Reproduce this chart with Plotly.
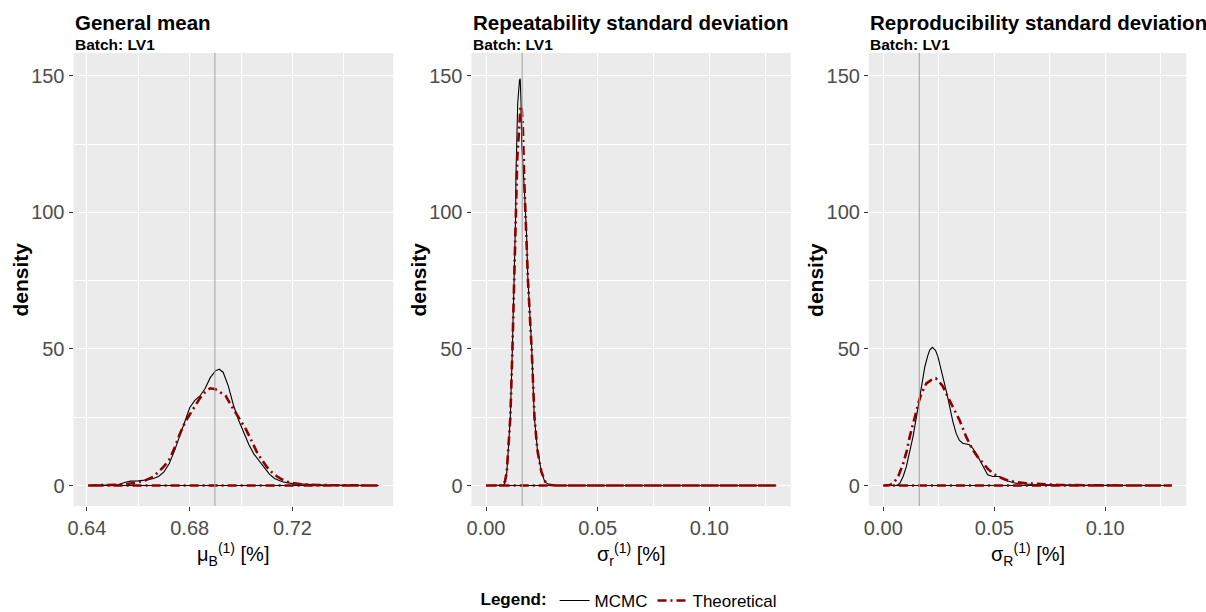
import plotly.graph_objects as go

# ---------------- data ----------------
panel_titles = ["General mean", "Repeatability standard deviation", "Reproducibility standard deviation"]
panel_subtitle = "Batch: LV1"
x_titles = ["μ<sub>B</sub><sup>(1)</sup> [%]", "σ<sub>r</sub><sup>(1)</sup> [%]", "σ<sub>R</sub><sup>(1)</sup> [%]"]
ref_values = [0.6898, 0.0162, 0.0162]

# Panel 1 : general mean
mean_mcmc_x = [0.6405, 0.648, 0.652, 0.655, 0.657, 0.660, 0.663, 0.666, 0.668, 0.670, 0.672, 0.674,
               0.676, 0.678, 0.680, 0.682, 0.684, 0.686, 0.688, 0.690, 0.6915, 0.693, 0.695, 0.697,
               0.699, 0.701, 0.703, 0.705, 0.707, 0.709, 0.711, 0.713, 0.716, 0.720, 0.725, 0.732,
               0.740, 0.7535]
mean_mcmc_y = [0, 0.1, 0.3, 1.2, 1.6, 1.7, 2.0, 2.6, 3.4, 5.0, 8.0, 12.5,
               18, 23.5, 28.5, 31.2, 32.8, 35.5, 39.5, 42.0, 42.6, 41.5, 36.5, 29.5,
               24, 19.5, 15, 11.5, 9, 6.8, 4.2, 2.6, 1.4, 0.7, 0.4, 0.2,
               0.05, 0]
mean_theo_x = [0.6405, 0.650, 0.655, 0.660, 0.663, 0.666, 0.668, 0.670, 0.672, 0.674, 0.676, 0.678,
               0.680, 0.682, 0.684, 0.686, 0.688, 0.690, 0.692, 0.694, 0.696, 0.698, 0.700, 0.702,
               0.704, 0.706, 0.708, 0.710, 0.712, 0.714, 0.716, 0.718, 0.720, 0.724, 0.730, 0.740,
               0.7535]
mean_theo_y = [0, 0.1, 0.4, 1.2, 2.0, 3.3, 5.0, 7.0, 9.4, 13.5, 18.5, 22.8,
               26.0, 29.0, 32.0, 34.2, 35.6, 35.3, 34.0, 32.8, 29.5, 26.5, 23.5, 20.4,
               16.5, 12.5, 9.5, 6.8, 4.8, 3.3, 2.2, 1.4, 0.9, 0.4, 0.15, 0.05,
               0]

# Panel 2 : repeatability standard deviation
rep_mcmc_x = [0.0, 0.006, 0.0078, 0.0082, 0.0093, 0.0100, 0.0109, 0.0118, 0.0127, 0.0133, 0.0134,
              0.0137, 0.0142, 0.0150, 0.0153, 0.0157, 0.0160, 0.0172, 0.0182, 0.0187, 0.0205,
              0.0216, 0.0230, 0.0249, 0.0264, 0.0287, 0.032, 0.13]
rep_mcmc_y = [0, 0, 0.2, 0.5, 4.7, 13.2, 25.4, 49.8, 75.4, 100, 113,
              124.8, 140, 148.5, 149, 140, 124.8, 108, 91.2, 76.6, 49.8,
              25.4, 13.2, 4.7, 1.2, 0.2, 0, 0]
rep_theo_x = [0.0, 0.006, 0.0075, 0.0085, 0.0093, 0.0100, 0.0109, 0.0118, 0.0127, 0.0134, 0.0140,
              0.0148, 0.0155, 0.0160, 0.0165, 0.0172, 0.0182, 0.0188, 0.0205, 0.0217, 0.0230,
              0.0248, 0.0265, 0.028, 0.031, 0.13]
rep_theo_y = [0, 0, 0.3, 1.5, 5, 13, 25, 49, 74, 100, 120,
              133, 139, 138, 131, 110, 90, 75, 49, 25, 13,
              5, 1.5, 0.3, 0, 0]

# Panel 3 : reproducibility standard deviation
repro_mcmc_x = [0.0, 0.006, 0.0075, 0.009, 0.0104, 0.012, 0.0134, 0.015, 0.0164, 0.0175, 0.0187,
                0.020, 0.0209, 0.0221, 0.0235, 0.0246, 0.0258, 0.0269, 0.0284, 0.0299, 0.0313,
                0.0328, 0.0343, 0.0358, 0.0373, 0.0388, 0.0403, 0.0418, 0.0433, 0.0448, 0.047,
                0.0493, 0.0522, 0.0552, 0.0597, 0.0672, 0.079, 0.094, 0.13]
repro_mcmc_y = [0, 0, 0.85, 3.5, 7, 12.5, 18, 25.5, 32.6, 38.5, 43.5,
                47.5, 49.6, 50.6, 49.5, 47.2, 43.5, 39.9, 34.5, 28.9, 23.5,
                19.1, 16.5, 15.5, 15.2, 14.9, 13.6, 11.8, 9.5, 7, 3.9,
                3.3, 3.3, 1.8, 0.85, 0.4, 0.2, 0.1, 0]
repro_theo_x = [0.0, 0.003, 0.0045, 0.0067, 0.009, 0.0105, 0.0119, 0.0134, 0.0149, 0.0161, 0.0172,
                0.0183, 0.0194, 0.0215, 0.0236, 0.0252, 0.0269, 0.029, 0.0313, 0.0343, 0.0373,
                0.0403, 0.0425, 0.0448, 0.047, 0.0493, 0.052, 0.0552, 0.060, 0.0642, 0.070,
                0.079, 0.095, 0.13]
repro_theo_y = [0, 0.2, 0.85, 3.3, 8.2, 12.5, 17.9, 23, 27.7, 31, 33.8,
                35.8, 37.4, 38.6, 39.3, 38, 36.2, 32.5, 28.9, 24, 17.9,
                13, 10.5, 8.2, 6.2, 4.5, 3.2, 2.1, 1.2, 0.85, 0.5,
                0.2, 0.05, 0]

series_names = ["MCMC", "Theoretical"]
panel_data = [
    ((mean_mcmc_x, mean_mcmc_y), (mean_theo_x, mean_theo_y)),
    ((rep_mcmc_x, rep_mcmc_y), (rep_theo_x, rep_theo_y)),
    ((repro_mcmc_x, repro_mcmc_y), (repro_theo_x, repro_theo_y)),
]

x_ranges = [[0.6348, 0.7592], [-0.0065, 0.1365], [-0.0065, 0.1365]]
x_tick0 = [0.64, 0.0, 0.0]
x_dtick = [0.04, 0.05, 0.05]
x_minor = [0.02, 0.025, 0.025]
y_range = [-7.5, 158.4]

# ---------------- layout geometry ----------------
W, H = 1206, 612
x_domains_px = [(73.5, 393.3), (471.5, 790.8), (868.9, 1186.3)]
y_domain_px = (53, 506)

def px_x(v):
    return v / W

def px_y(v):
    return 1 - v / H

FONT = "Liberation Sans, Arial, sans-serif"
MCMC_COLOR = "black"
THEO_COLOR = "#8B0000"

fig = go.Figure()
for i, (mc, th) in enumerate(panel_data):
    xa = "x" if i == 0 else f"x{i+1}"
    ya = "y" if i == 0 else f"y{i+1}"
    fig.add_trace(go.Scatter(
        x=list(mc[0]) + [mc[0][0]], y=list(mc[1]) + [0],
        mode="lines", line=dict(color=MCMC_COLOR, width=1.1),
        name=series_names[0], legendgroup=series_names[0], showlegend=(i == 0),
        xaxis=xa, yaxis=ya, hoverinfo="skip"))
    fig.add_trace(go.Scatter(
        x=list(th[0]) + [th[0][0]], y=list(th[1]) + [0],
        mode="lines", line=dict(color=THEO_COLOR, width=2.6, dash="9px,4px,2px,4px"),
        name=series_names[1], legendgroup=series_names[1], showlegend=(i == 0),
        xaxis=xa, yaxis=ya, hoverinfo="skip"))

layout = dict(
    width=W, height=H,
    margin=dict(l=0, r=0, t=0, b=0, pad=0, autoexpand=False),
    paper_bgcolor="white", plot_bgcolor="#EBEBEB",
    font=dict(family=FONT, color="black"),
    showlegend=True,
    legend=dict(orientation="h", x=0.5228, xanchor="center", y=px_y(601), yanchor="middle",
                font=dict(size=17, family=FONT, color="black"),
                title=dict(text="<b>Legend:</b>", font=dict(size=17, family=FONT)),
                bgcolor="rgba(0,0,0,0)", itemwidth=30, tracegroupgap=0),
)

annotations = []
shapes = []
for i in range(3):
    xs = "" if i == 0 else str(i + 1)
    x0, x1 = x_domains_px[i]
    layout[f"xaxis{xs}"] = dict(
        domain=[px_x(x0), px_x(x1)], range=x_ranges[i], anchor=f"y{xs}",
        tick0=x_tick0[i], dtick=x_dtick[i], tickformat=".2f",
        showgrid=True, gridcolor="white", gridwidth=1.1, zeroline=False, showline=False,
        ticks="outside", ticklen=4, tickwidth=1, tickcolor="#333333",
        tickfont=dict(size=20, color="#4d4d4d", family=FONT),
        minor=dict(dtick=x_minor[i], tick0=x_tick0[i], showgrid=True, gridcolor="white", gridwidth=0.5),
        fixedrange=True, automargin=False,
    )
    layout[f"yaxis{xs}"] = dict(
        domain=[px_y(y_domain_px[1]), px_y(y_domain_px[0])], range=y_range, anchor=f"x{xs}",
        tick0=0, dtick=50,
        showgrid=True, gridcolor="white", gridwidth=1.1, zeroline=False, showline=False,
        ticks="outside", ticklen=4, tickwidth=1, tickcolor="#333333",
        tickfont=dict(size=20, color="#4d4d4d", family=FONT),
        minor=dict(dtick=25, tick0=0, showgrid=True, gridcolor="white", gridwidth=0.5),
        fixedrange=True, automargin=False,
    )
    shapes.append(dict(type="line", xref=f"x{xs}", yref="paper",
                       x0=ref_values[i], x1=ref_values[i],
                       y0=px_y(y_domain_px[1]), y1=px_y(y_domain_px[0]),
                       line=dict(color="#A0A0A0", width=1), layer="above"))
    # titles
    annotations.append(dict(text=f"<b>{panel_titles[i]}</b>", xref="paper", yref="paper",
                            x=px_x(x0 - 1), y=px_y(22.5), xanchor="left", yanchor="middle",
                            showarrow=False, font=dict(size=20.5, family=FONT, color="black")))
    annotations.append(dict(text=f"<b>{panel_subtitle}</b>", xref="paper", yref="paper",
                            x=px_x(x0 - 1), y=px_y(45), xanchor="left", yanchor="middle",
                            showarrow=False, font=dict(size=15.5, family=FONT, color="black")))
    # y title
    annotations.append(dict(text="<b>density</b>", xref="paper", yref="paper",
                            x=px_x(x0 - 53.5), y=px_y((y_domain_px[0] + y_domain_px[1]) / 2),
                            xanchor="center", yanchor="middle", textangle=-90,
                            showarrow=False, font=dict(size=21, family=FONT, color="black")))
    # x title
    annotations.append(dict(text=x_titles[i], xref="paper", yref="paper",
                            x=px_x((x0 + x1) / 2), y=px_y(554),
                            xanchor="center", yanchor="middle",
                            showarrow=False, font=dict(size=20, family=FONT, color="black")))

layout["annotations"] = annotations
layout["shapes"] = shapes
fig.update_layout(**layout)

fig.write_html("out.html")
